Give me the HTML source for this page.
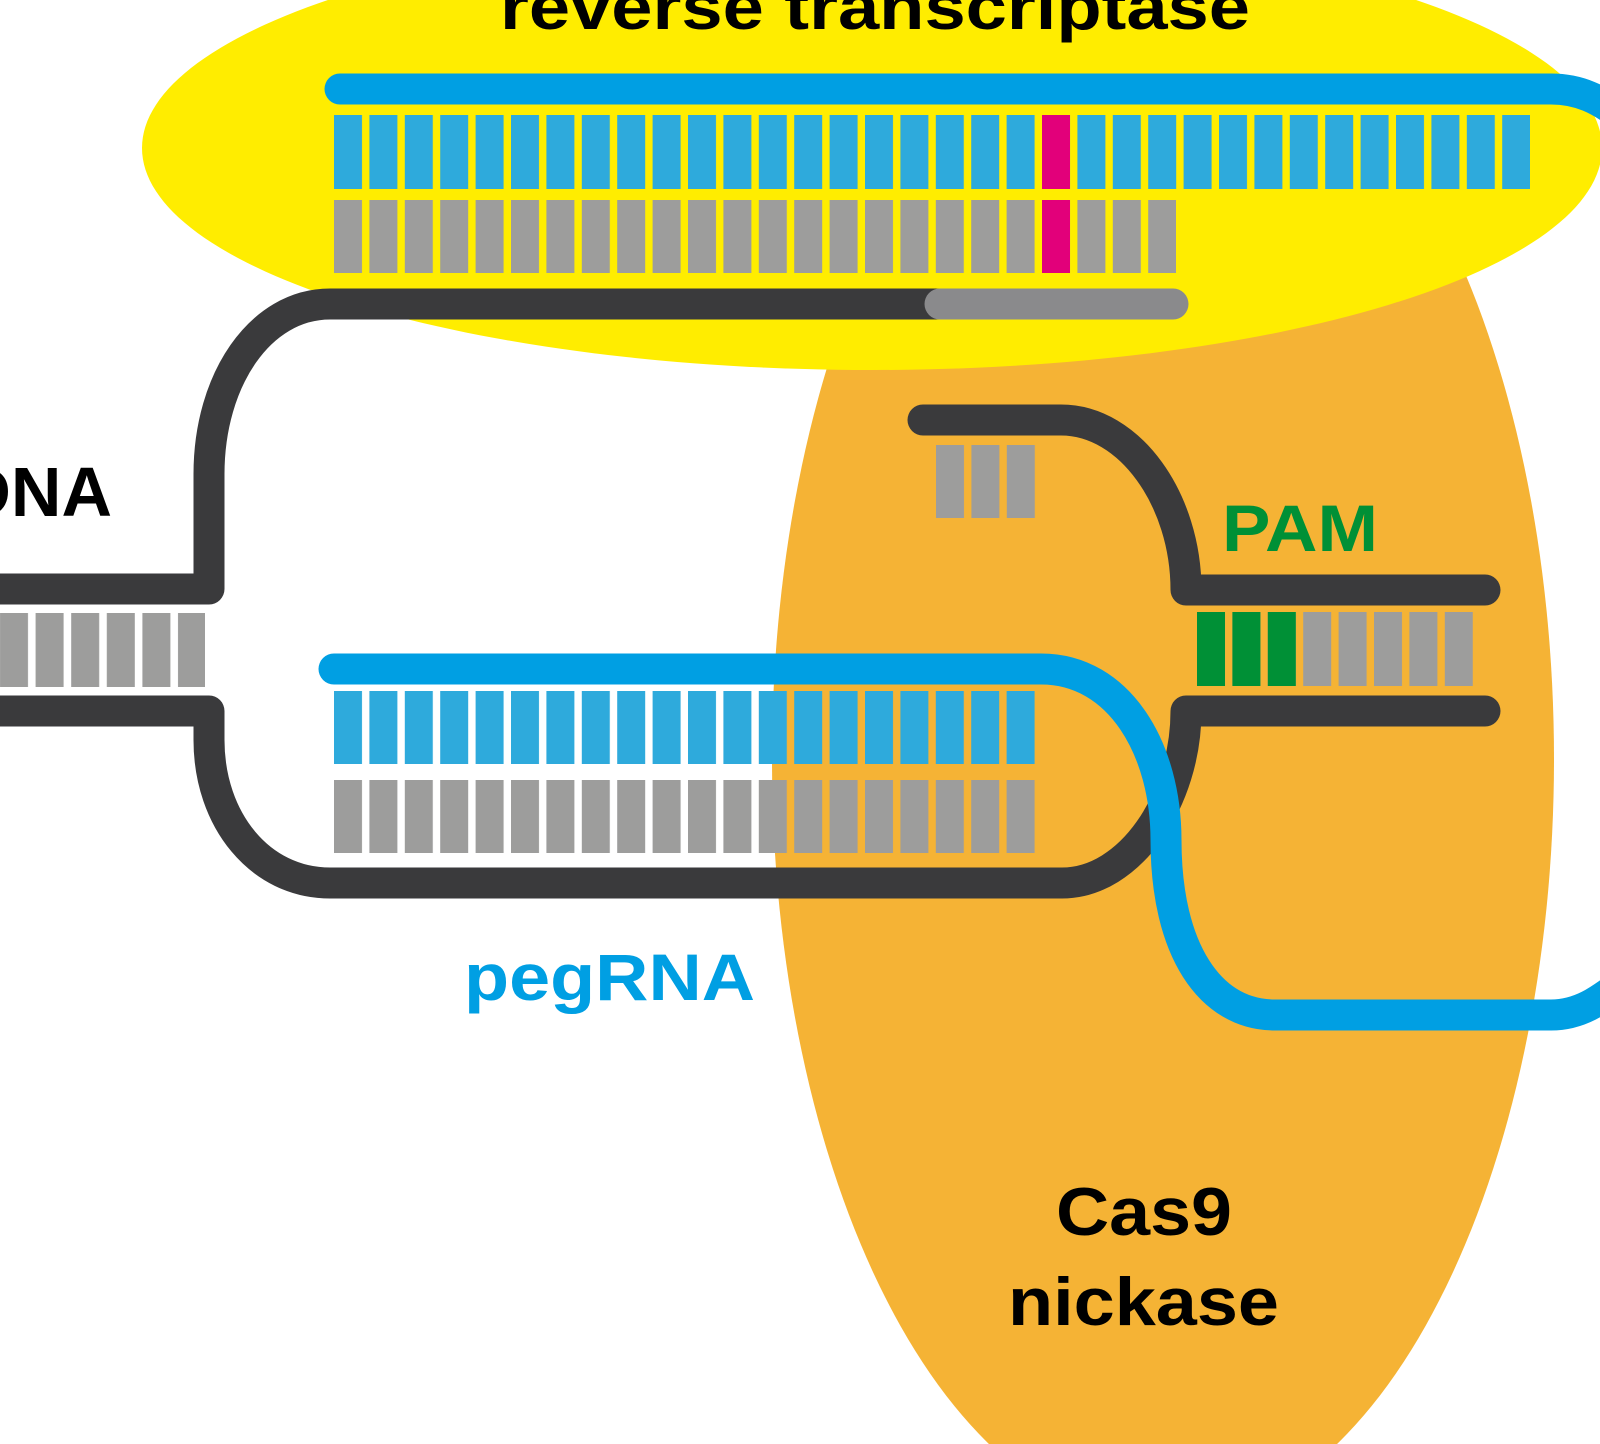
<!DOCTYPE html>
<html><head><meta charset="utf-8"><style>
html,body{margin:0;padding:0;background:#fff;width:1600px;height:1444px;overflow:hidden}
svg{display:block}
text{font-family:"Liberation Sans",Arial,sans-serif;font-weight:bold}
</style></head><body>
<svg width="1600" height="1444" viewBox="0 0 1600 1444" xmlns="http://www.w3.org/2000/svg">
<defs>
<pattern id="pb" x="334" y="0" width="35.4" height="10" patternUnits="userSpaceOnUse"><rect x="0" y="0" width="28" height="10" fill="#2eaadc"/></pattern>
<pattern id="pg" x="334" y="0" width="35.4" height="10" patternUnits="userSpaceOnUse"><rect x="0" y="0" width="28" height="10" fill="#9d9d9c"/></pattern>
<pattern id="pg2" x="-5" y="0" width="35.6" height="10" patternUnits="userSpaceOnUse"><rect x="5" y="0" width="28" height="10" fill="#9d9d9c"/></pattern>
<pattern id="pg3" x="1197" y="0" width="35.4" height="10" patternUnits="userSpaceOnUse"><rect x="0" y="0" width="28" height="10" fill="#9d9d9c"/></pattern>
<pattern id="pg4" x="936" y="0" width="35.4" height="10" patternUnits="userSpaceOnUse"><rect x="0" y="0" width="28" height="10" fill="#9d9d9c"/></pattern>
</defs>
<ellipse cx="1163" cy="759" rx="391" ry="765" fill="#f5b335"/>
<ellipse cx="872" cy="148" rx="730" ry="222" fill="#ffed00"/>
<text x="500" y="29" font-size="64" textLength="750" lengthAdjust="spacingAndGlyphs" fill="#000">reverse transcriptase</text>
<rect x="334" y="115" width="1196" height="74" fill="url(#pb)"/>
<rect x="334" y="200" width="842" height="73" fill="url(#pg)"/>
<rect x="1042" y="115" width="28" height="158" fill="#e2007a"/>
<rect x="1042" y="189" width="28" height="11" fill="#ffed00"/>
<rect x="0" y="613" width="205" height="74" fill="url(#pg2)"/>
<rect x="334" y="691" width="708" height="73" fill="url(#pb)"/>
<rect x="334" y="780" width="708" height="73" fill="url(#pg)"/>
<rect x="936" y="445" width="100" height="73" fill="url(#pg4)"/>
<rect x="1197" y="612" width="276" height="74" fill="url(#pg3)"/>
<rect x="1197" y="612" width="28" height="74" fill="#009036"/>
<rect x="1232.4" y="612" width="28" height="74" fill="#009036"/>
<rect x="1267.8" y="612" width="28" height="74" fill="#009036"/>
<g fill="none" stroke-width="31" stroke-linecap="round" stroke-linejoin="round">
<path d="M-20 589 H209 V474 C209 380 260 304 330 304 H936" stroke="#3a3a3c"/>
<path d="M940 304 H1173" stroke="#8a8a8c"/>
<path d="M-20 711 H209 V740 C209 820 260 883 330 883 H1062 C1130 883 1186 800 1186 711 H1485" stroke="#3a3a3c"/>
<path d="M923 420 H1061 C1130 420 1186 500 1186 590 H1485" stroke="#3a3a3c"/>
<path d="M340 89 H1551 C1580 89 1600 100 1620 115" stroke="#009fe3"/>
<path d="M334 669 H1041 C1120 669 1166 750 1166 840 C1166 950 1210 1015 1275 1015 H1551 C1580 1015 1600 1000 1620 985" stroke="#009fe3"/>
</g>
<text x="112" y="516" font-size="70" text-anchor="end" fill="#000">DNA</text>
<text x="1222" y="551" font-size="66" textLength="156" lengthAdjust="spacingAndGlyphs" fill="#009036">PAM</text>
<text x="464" y="1000" font-size="66" textLength="291" lengthAdjust="spacingAndGlyphs" fill="#009fe3">pegRNA</text>
<text x="1056" y="1235" font-size="68" textLength="176" lengthAdjust="spacingAndGlyphs" fill="#000">Cas9</text>
<text x="1008" y="1325" font-size="68" textLength="271" lengthAdjust="spacingAndGlyphs" fill="#000">nickase</text>
</svg>
</body></html>
